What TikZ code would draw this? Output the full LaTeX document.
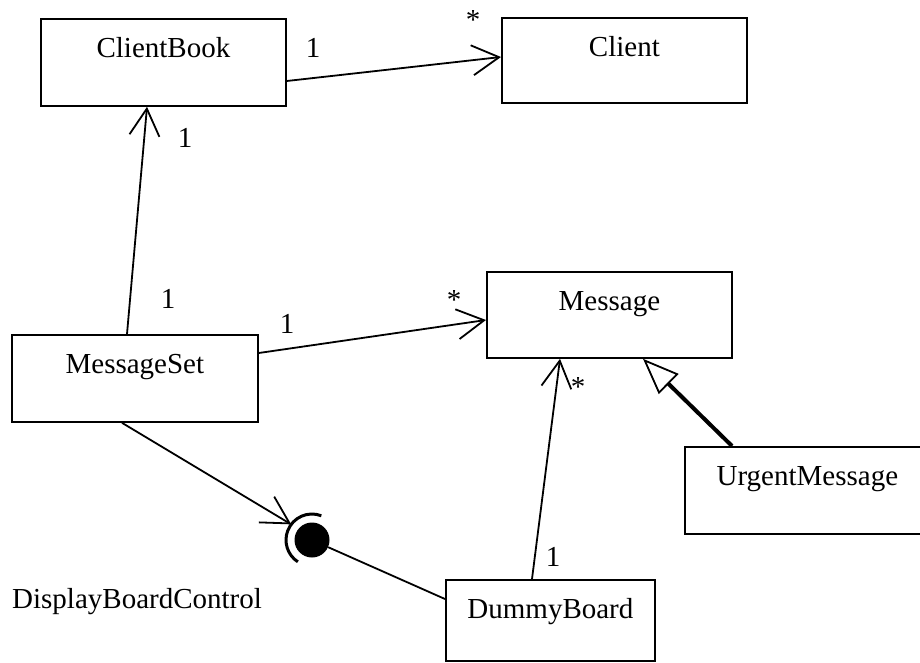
\documentclass[tikz,border=0pt]{standalone}
\usepackage{fontspec}
\setmainfont{Liberation Serif}
\usetikzlibrary{arrows.meta}
\begin{document}
\begin{tikzpicture}[x=1pt,y=-1pt,
  every node/.style={font=\fontsize{29}{34}\selectfont},
  cls/.style={draw,line width=1.8pt,rectangle,anchor=north west,inner xsep=0pt,inner ysep=0pt,text height=39pt},
  lbl/.style={anchor=base,inner sep=0pt},
  assoc/.style={line width=1.8pt,-{Straight Barb[length=27pt,width=30pt]}},
  gen/.style={line width=4pt,-{Triangle[open,length=36pt,width=28pt,line width=1.8pt]}},
  plain/.style={line width=1.8pt}]
\useasboundingbox (0,0) rectangle (920,662);
% classes
\node[cls,minimum width=245pt,text depth=48pt] (cb) at (40,18) {ClientBook};
\node[cls,minimum width=245pt,text depth=46pt] (cl) at (501,17) {Client};
\node[cls,minimum width=246pt,text depth=48pt] (ms) at (11,334) {MessageSet};
\node[cls,minimum width=245pt,text depth=47pt] (msg) at (486,271) {Message};
\node[cls,minimum width=245pt,text depth=48pt] (um) at (684,446) {UrgentMessage};
\node[cls,minimum width=209pt,text depth=42pt] (db) at (445,579) {DummyBoard};
% provided interface ball
\node[circle,fill=black,inner sep=0pt,minimum size=35pt] (ball) at (312,540) {};
\coordinate (sock) at ([shift={(143:26pt)}]ball.center);
\draw[line width=3pt] ([shift={(69:26pt)}]ball.center) arc[start angle=69,end angle=237,radius=26pt];
% endpoints on class edges
\coordinate (cbR) at ([yshift=-63pt]cb.north east);
\coordinate (clL) at ([yshift=-40pt]cl.north west);
\coordinate (msT) at ([xshift=116pt]ms.north west);
\coordinate (cbB) at ([xshift=107pt]cb.south west);
\coordinate (msR) at ([yshift=-19pt]ms.north east);
\coordinate (msgL) at ([yshift=-49pt]msg.north west);
\coordinate (dbT) at ([xshift=87pt]db.north west);
\coordinate (msgB1) at ([xshift=74pt]msg.south west);
\coordinate (umT) at ([xshift=48pt]um.north west);
\coordinate (msgB2) at ([xshift=157pt]msg.south west);
\coordinate (msB) at ([xshift=111pt]ms.south west);
\coordinate (dbL) at ([yshift=-20pt]db.north west);
% connectors
\draw[assoc] (cbR) -- (clL);
\draw[assoc] (msT) -- (cbB);
\draw[assoc] (msR) -- (msgL);
\draw[assoc] (dbT) -- (msgB1);
\draw[gen] (umT) -- (msgB2);
\draw[assoc] (msB) -- (sock);
\draw[plain] (ball) -- (dbL);
% multiplicities
\node[lbl] (m1) at (313,57) {1};
\node[lbl] (m2) at (473,29) {*};
\node[lbl] (m3) at (185,147) {1};
\node[lbl] (m4) at (168,308) {1};
\node[lbl] (m5) at (287,333) {1};
\node[lbl] (m6) at (454,309) {*};
\node[lbl] (m7) at (578,396) {*};
\node[lbl] (m8) at (553,566) {1};
\node[anchor=base west,inner sep=0pt] (dbc) at (12,608) {DisplayBoardControl};
\end{tikzpicture}
\end{document}
